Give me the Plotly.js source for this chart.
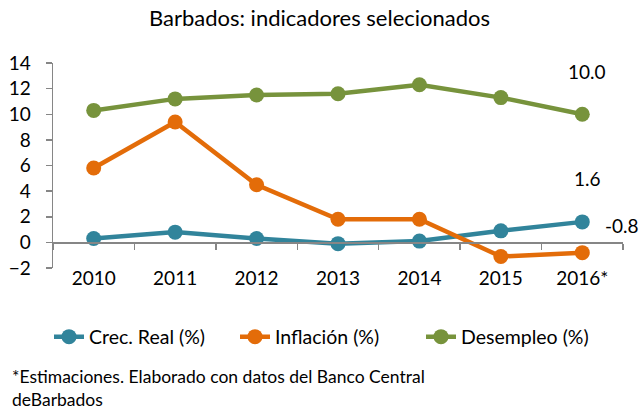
<!DOCTYPE html>
<html>
<head>
<meta charset="utf-8">
<script src="https://cdn.plot.ly/plotly-3.0.1.min.js"></script>
<style>html,body{margin:0;padding:0;background:#fff;}#chart{width:639px;height:411px;}</style>
</head>
<body>
<div id="chart"></div>
<script>
var years = ['2010','2011','2012','2013','2014','2015','2016*'];
var crecReal = [0.3, 0.8, 0.3, -0.1, 0.1, 0.9, 1.6];
var inflacion = [5.8, 9.4, 4.5, 1.8, 1.8, -1.1, -0.8];
var desempleo = [10.3, 11.2, 11.5, 11.6, 12.3, 11.3, 10.0];
var seriesNames = ['Crec. Real (%)', 'Inflación (%)', 'Desempleo (%)'];
var colors = ['#31849B', '#E36C09', '#77933C'];

var FONT = 'Lato, "Open Sans", sans-serif';
var data = [crecReal, inflacion, desempleo].map(function(vals, i){
  return {
    type: 'scatter', mode: 'lines+markers', x: years, y: vals, name: seriesNames[i],
    line: {color: colors[i], width: 4.5},
    marker: {color: colors[i], size: 15},
    cliponaxis: false
  };
});

var last = years.length - 1;
var annotations = [
  {x: years[last], y: desempleo[last], xref: 'x', yref: 'y', text: desempleo[last].toFixed(1), showarrow: false, yshift: 43, xshift: 5, font: {size: 19, color: '#000', family: FONT}},
  {x: years[last], y: crecReal[last], xref: 'x', yref: 'y', text: crecReal[last].toFixed(1), showarrow: false, yshift: 43, xshift: 5, font: {size: 19, color: '#000', family: FONT}},
  {x: years[last], y: inflacion[last], xref: 'x', yref: 'y', text: inflacion[last].toFixed(1), showarrow: false, yshift: 27, xshift: 40, font: {size: 19, color: '#000', family: FONT}},
  {x: (10-53)/570, y: (268-388)/205, xref: 'paper', yref: 'paper', text: '*Estimaciones. Elaborado con datos del Banco Central<br>deBarbados', showarrow: false, xanchor: 'left', yanchor: 'middle', align: 'left', font: {size: 17.5, color: '#000', family: FONT}}
];

var layout = {
  width: 639, height: 411,
  margin: {l: 53, r: 16, t: 63, b: 143, autoexpand: false},
  paper_bgcolor: '#fff', plot_bgcolor: '#fff',
  font: {family: FONT, color: '#000'},
  title: {text: 'Barbados: indicadores selecionados', x: 0.5, xref: 'container', xanchor: 'center', y: 1 - 18/411, yref: 'container', yanchor: 'middle', font: {size: 22, family: FONT, color: '#000'}},
  showlegend: true,
  legend: {orientation: 'h', x: (328-53)/570, xanchor: 'center', y: (268-337)/205, yanchor: 'middle', entrywidth: 141, entrywidthmode: 'pixels', font: {size: 19.5, family: FONT, color: '#000'}},
  xaxis: {
    type: 'category', categoryorder: 'array', categoryarray: years,
    range: [-0.5, years.length - 0.5], autorange: false,
    anchor: 'free', position: 0.125,
    showline: true, linecolor: '#868686', linewidth: 1.5,
    ticks: 'outside', tickson: 'boundaries', ticklen: 6, tickcolor: '#868686', tickwidth: 1.5,
    showgrid: false, zeroline: false, tickangle: 0,
    tickfont: {size: 19, family: FONT, color: '#000'},
    ticklabelstandoff: 18,
    automargin: false,
    fixedrange: true
  },
  yaxis: {
    range: [-2, 14], dtick: 2, tick0: 0, autorange: false,
    showline: true, linecolor: '#868686', linewidth: 1.5,
    ticks: 'outside', ticklen: 6, tickcolor: '#868686', tickwidth: 1.5,
    showgrid: false, zeroline: false, automargin: false,
    tickfont: {size: 19, family: FONT, color: '#000'},
    ticklabelstandoff: 11,
    fixedrange: true
  },
  annotations: annotations
};

Plotly.newPlot('chart', data, layout, {displayModeBar: false, staticPlot: true});
</script>
</body>
</html>
